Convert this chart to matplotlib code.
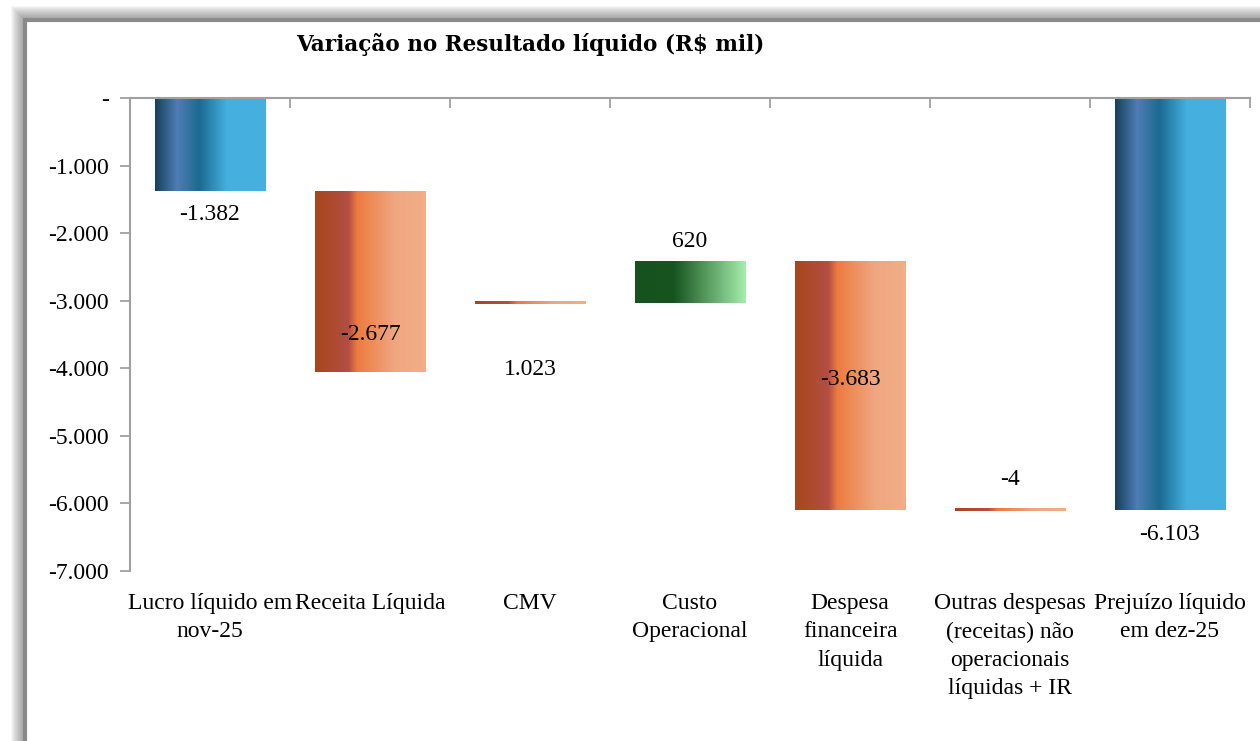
import numpy as np
import matplotlib.pyplot as plt
from matplotlib.colors import LinearSegmentedColormap
from matplotlib.patches import Rectangle

# dados (R$ mil)
categorias = ["Lucro líquido em\nnov-25", "Receita Líquida", "CMV", "Custo\nOperacional",
              "Despesa\nfinanceira\nlíquida", "Outras despesas\n(receitas) não\noperacionais\nlíquidas + IR",
              "Prejuízo líquido\nem dez-25"]
valores = [-1382, -2677, 1023, 620, -3683, -4, -6103]
rotulos = ["-1.382", "-2.677", "1.023", "620", "-3.683", "-4", "-6.103"]
tipo = ["total", "var", "linha", "var", "var", "var", "total"]
yticks = [0, -1000, -2000, -3000, -4000, -5000, -6000, -7000]
ytick_txt = ["-", "-1.000", "-2.000", "-3.000", "-4.000", "-5.000", "-6.000", "-7.000"]
# posicao dos rotulos (valor no eixo)
rot_y = [-1731, -3507, -4025, -2131, -4173, -5653, -6467]

azul = LinearSegmentedColormap.from_list("azul", [(0, "#173f5a"), (0.2, "#4f7db6"), (0.4, "#1b6a91"),
                                                  (0.65, "#45b0df"), (1, "#46b1e0")])
laranja = LinearSegmentedColormap.from_list("lar", [(0, "#a7471a"), (0.3, "#b34e45"), (0.38, "#ec7b3e"),
                                                   (0.72, "#f0a681"), (1, "#f2ae88")])
verde = LinearSegmentedColormap.from_list("verde", [(0, "#16521f"), (0.35, "#17541f"), (1, "#a4eeac")])

serif = "Liberation Serif"
fig = plt.figure(figsize=(12.6, 7.41), dpi=100)
fig.patch.set_facecolor("white")

# moldura com sombra
W, H = 1260, 741
for i in range(14):
    fig.patches.append(Rectangle(((25 - 14 + i) / W, -0.1), 1.2, (H - 20 + 14 - i) / H + 0.1,
                                 transform=fig.transFigure, facecolor="#555555", alpha=0.05,
                                 edgecolor="none", zorder=0))
fig.patches.append(Rectangle((25 / W, -0.1), 1.2, (H - 20) / H + 0.1, transform=fig.transFigure,
                             facecolor="white", edgecolor="#8a8a8a", linewidth=3, zorder=1))

ax = fig.add_axes([130 / W, 1 - 571 / H, 1120 / W, 473 / H])
ax.set_facecolor("none")
ax.set_zorder(2)

w = 0.69
nivel = 0
for i, v in enumerate(valores):
    if tipo[i] == "total":
        base, topo = 0, v
        cmap = azul
    else:
        base, topo = nivel, nivel + v
        cmap = verde if v > 0 and tipo[i] == "var" else laranja
    if tipo[i] == "linha":
        # CMV aparece apenas como um traço no nível final
        base = topo = nivel + v
    nivel = topo if tipo[i] != "total" else v
    lo, hi = min(base, topo), max(base, topo)
    if hi - lo < 30:
        lo, hi = topo - 15, topo + 15
    grad = np.linspace(0, 1, 256).reshape(1, -1)
    ax.imshow(grad, cmap=cmap, aspect="auto", extent=[i - w / 2, i + w / 2, lo, hi], zorder=2)
    ax.text(i, rot_y[i], rotulos[i], ha="center", va="center", fontsize=17, family=serif, zorder=4)

ax.set_xlim(-0.5, len(valores) - 0.5)
ax.set_ylim(-7000, 0)
ax.set_yticks(yticks)
ax.set_yticklabels(ytick_txt, family=serif, fontsize=17)
ax.set_xticks(range(len(valores)))
ax.set_xticklabels(categorias, family=serif, fontsize=17, linespacing=1.45)
ax.set_xticks(np.arange(-0.5, len(valores)), minor=True)
ax.tick_params(axis="x", which="major", length=0, pad=16)
ax.tick_params(axis="x", which="minor", bottom=False, top=True, direction="in", length=7,
               color="#a0a0a0", width=1.3)
ax.tick_params(axis="y", length=7, color="#a0a0a0", width=1.3, pad=8)
for s in ["bottom", "right"]:
    ax.spines[s].set_visible(False)
for s in ["left", "top"]:
    ax.spines[s].set_color("#a0a0a0")
    ax.spines[s].set_linewidth(1.5)
    ax.spines[s].set_zorder(3)

fig.text(530 / W, 1 - 45 / H, "Variação no Resultado líquido (R$ mil)", ha="center", va="center",
         fontsize=15.5, fontweight="bold", family="DejaVu Serif")

fig.savefig("out.png", dpi=100, facecolor=fig.get_facecolor())
